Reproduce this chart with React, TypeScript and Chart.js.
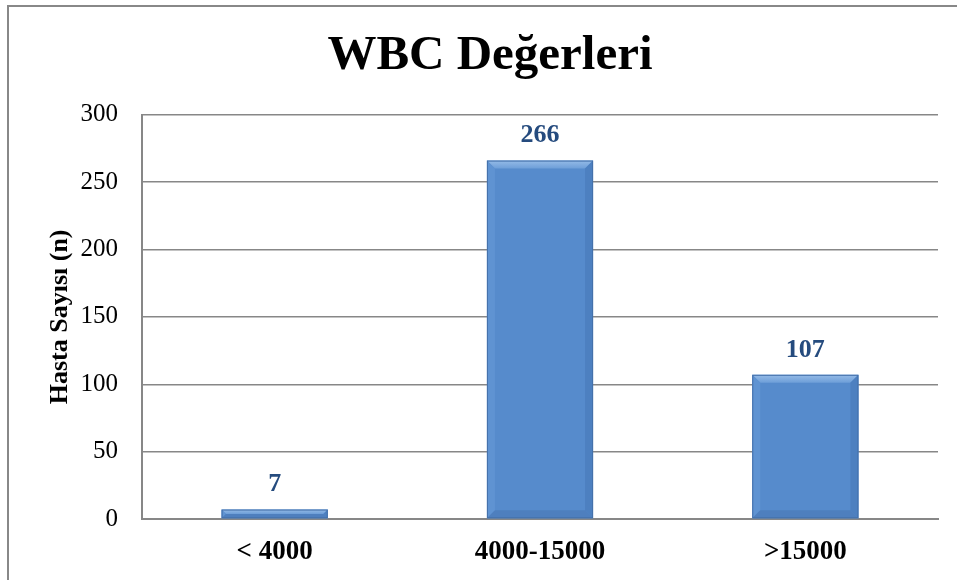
import React, { useEffect, useRef } from "react";
import { Chart, registerables } from "chart.js";

Chart.register(...registerables);

const categories = ["< 4000", "4000-15000", ">15000"];
const patientCounts = [7, 266, 107];
const yTicks = [0, 50, 100, 150, 200, 250, 300];
const chartTitle = "WBC Değerleri";
const yAxisTitle = "Hasta Sayısı (n)";

const FONT = "'Liberation Serif', 'Times New Roman', serif";
const BAR_FILL = "#568BCC";
const LABEL_COLOR = "#254B7E";
const GRID_COLOR = "#878787";

const bevelPlugin = {
  id: "bevel",
  afterDatasetsDraw(chart: any) {
    const ctx = chart.ctx;
    const meta = chart.getDatasetMeta(0);
    ctx.save();
    meta.data.forEach((bar: any) => {
      const { x, y, base, width } = bar.getProps(["x", "y", "base", "width"], true);
      const l = x - width / 2;
      const r = x + width / 2;
      const t = y;
      const b = base;
      const h = b - t;
      const bv = Math.min(8, h / 2);
      let g = ctx.createLinearGradient(0, t, 0, t + bv);
      g.addColorStop(0, "#95BBE7");
      g.addColorStop(1, "#6D9ED8");
      ctx.fillStyle = g;
      ctx.beginPath();
      ctx.moveTo(l, t);
      ctx.lineTo(r, t);
      ctx.lineTo(r - bv, t + bv);
      ctx.lineTo(l + bv, t + bv);
      ctx.closePath();
      ctx.fill();
      ctx.fillStyle = "#5F93D2";
      ctx.beginPath();
      ctx.moveTo(l, t);
      ctx.lineTo(l + bv, t + bv);
      ctx.lineTo(l + bv, b - bv);
      ctx.lineTo(l, b);
      ctx.closePath();
      ctx.fill();
      ctx.fillStyle = "#4D80C0";
      ctx.beginPath();
      ctx.moveTo(r, t);
      ctx.lineTo(r - bv, t + bv);
      ctx.lineTo(r - bv, b - bv);
      ctx.lineTo(r, b);
      ctx.closePath();
      ctx.fill();
      ctx.fillStyle = "#4E7FBE";
      ctx.beginPath();
      ctx.moveTo(l, b);
      ctx.lineTo(l + bv, b - bv);
      ctx.lineTo(r - bv, b - bv);
      ctx.lineTo(r, b);
      ctx.closePath();
      ctx.fill();
      ctx.strokeStyle = "#4470AA";
      ctx.lineWidth = 1;
      ctx.strokeRect(l + 0.5, t + 0.5, width - 1, h - 1);
    });
    ctx.restore();
  },
};

const valueLabelPlugin = {
  id: "valueLabels",
  afterDatasetsDraw(chart: any) {
    const ctx = chart.ctx;
    const meta = chart.getDatasetMeta(0);
    ctx.save();
    ctx.font = `bold 26px ${FONT}`;
    ctx.fillStyle = LABEL_COLOR;
    ctx.textAlign = "center";
    ctx.textBaseline = "middle";
    meta.data.forEach((bar: any, i: number) => {
      ctx.fillText(String(patientCounts[i]), bar.x, bar.y - 25);
    });
    ctx.restore();
  },
};

const framePlugin = {
  id: "frame",
  beforeDraw(chart: any) {
    const ctx = chart.ctx;
    ctx.save();
    ctx.fillStyle = "#ffffff";
    ctx.fillRect(0, 0, chart.width, chart.height);
    ctx.strokeStyle = "#888888";
    ctx.lineWidth = 2;
    ctx.beginPath();
    ctx.moveTo(8, chart.height + 2);
    ctx.lineTo(8, 6);
    ctx.lineTo(chart.width + 2, 6);
    ctx.stroke();
    ctx.restore();
  },
};

export default function App() {
  const ref = useRef<HTMLCanvasElement | null>(null);
  useEffect(() => {
    if (!ref.current) return;
    const chart = new Chart(ref.current, {
      type: "bar",
      data: {
        labels: categories,
        datasets: [
          {
            data: patientCounts,
            backgroundColor: BAR_FILL,
            borderWidth: 0,
            categoryPercentage: 0.4,
            barPercentage: 1,
          },
        ],
      },
      options: {
        animation: false,
        responsive: false,
        devicePixelRatio: 1,
        layout: { padding: { left: 42, right: 19, top: 0, bottom: 0 } },
        plugins: {
          legend: { display: false },
          tooltip: { enabled: false },
          title: {
            display: true,
            text: chartTitle,
            color: "#000000",
            font: { family: FONT, size: 49, weight: "bold", lineHeight: 1.2 },
            padding: { top: 27, bottom: 29 },
          },
        },
        scales: {
          x: {
            grid: { display: false, drawTicks: false },
            border: { display: true, color: GRID_COLOR, width: 2 },
            ticks: {
              color: "#000000",
              font: { family: FONT, size: 27, weight: "bold" },
              padding: 17,
              maxRotation: 0,
              autoSkip: false,
            },
            afterFit(scale: any) {
              scale.height = 61;
            },
          },
          y: {
            min: 0,
            max: 300,
            afterBuildTicks(scale: any) {
              scale.ticks = yTicks.map((v) => ({ value: v }));
            },
            grid: { color: GRID_COLOR, lineWidth: 1.5, drawTicks: false },
            border: { display: true, color: GRID_COLOR, width: 2 },
            ticks: {
              color: "#000000",
              font: { family: FONT, size: 25 },
              padding: 24,
            },
            title: {
              display: true,
              text: yAxisTitle,
              color: "#000000",
              font: { family: FONT, size: 26, weight: "bold", lineHeight: 1.2 },
              padding: { top: 3, bottom: 0 },
            },
            afterFit(scale: any) {
              scale.width = 100;
            },
          },
        },
      },
      plugins: [framePlugin, bevelPlugin, valueLabelPlugin],
    });
    return () => chart.destroy();
  }, []);
  return (
    <div style={{ position: "fixed", left: 0, top: 0, width: 957, height: 580, background: "#fff" }}>
      <canvas ref={ref} width={957} height={580} style={{ display: "block" }} />
    </div>
  );
}
